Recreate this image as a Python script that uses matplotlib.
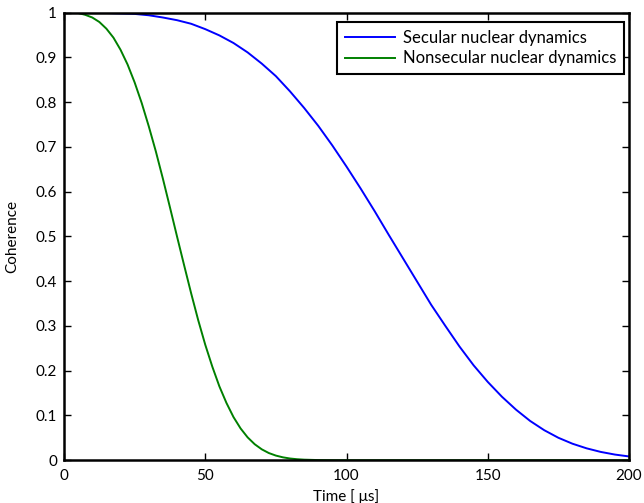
import matplotlib
matplotlib.use("Agg")
import matplotlib.pyplot as plt
import numpy as np

plt.rcParams["font.family"] = ["Lato", "DejaVu Sans"]

# Time axis in microseconds
t_secular = [0, 5, 10, 15, 20, 25, 30, 35, 40, 45, 50, 55, 60, 65, 70, 75, 80,
             85, 90, 95, 100, 105, 110, 115, 120, 125, 130, 135, 140, 145, 150,
             155, 160, 165, 170, 175, 180, 185, 190, 195, 200]
coh_secular = [1.000, 1.000, 1.000, 0.999, 0.998, 0.997, 0.994, 0.989, 0.983,
               0.975, 0.963, 0.949, 0.932, 0.911, 0.886, 0.858, 0.824, 0.787,
               0.747, 0.703, 0.656, 0.607, 0.556, 0.503, 0.451, 0.399, 0.347,
               0.300, 0.254, 0.212, 0.175, 0.142, 0.113, 0.0878, 0.0671,
               0.0502, 0.0369, 0.0266, 0.0186, 0.0127, 0.0085]

t_nonsecular = [0, 2.5, 5, 7.5, 10, 12.5, 15, 17.5, 20, 22.5, 25, 27.5, 30,
                32.5, 35, 37.5, 40, 42.5, 45, 47.5, 50, 52.5, 55, 57.5, 60,
                62.5, 65, 67.5, 70, 72.5, 75, 77.5, 80, 82.5, 85, 90, 95, 100,
                120, 140, 160, 180, 200]
coh_nonsecular = [1.000, 1.000, 0.999, 0.995, 0.989, 0.979, 0.964, 0.944,
                  0.917, 0.884, 0.844, 0.798, 0.746, 0.690, 0.629, 0.565,
                  0.500, 0.436, 0.373, 0.313, 0.258, 0.209, 0.165, 0.128,
                  0.0964, 0.0711, 0.0511, 0.0358, 0.0244, 0.0161, 0.0104,
                  0.0065, 0.0039, 0.0023, 0.0013, 0.0004, 0.0001, 0.0, 0.0,
                  0.0, 0.0, 0.0, 0.0]

xticks = [0, 50, 100, 150, 200]
yticks = [0, 0.1, 0.2, 0.3, 0.4, 0.5, 0.6, 0.7, 0.8, 0.9, 1]
ytick_labels = ["0", "0.1", "0.2", "0.3", "0.4", "0.5", "0.6", "0.7", "0.8",
                "0.9", "1"]

W, H = 644, 503
fig = plt.figure(figsize=(W / 100, H / 100), dpi=100)
ax = fig.add_axes([0.0994, 0.085, 0.8773, 0.890])

ax.plot(t_secular, coh_secular, color="#0000FF", linewidth=1.4,
        label="Secular nuclear dynamics")
ax.plot(t_nonsecular, coh_nonsecular, color="#008000", linewidth=1.4,
        label="Nonsecular nuclear dynamics")

ax.set_xlim(0, 200)
ax.set_ylim(0, 1)
ax.set_xticks(xticks)
ax.set_xticklabels([str(v) for v in xticks])
ax.set_yticks(yticks)
ax.set_yticklabels(ytick_labels)
ax.tick_params(direction="in", length=5, width=1, labelsize=11,
               top=True, right=True)
ax.tick_params(axis="x", pad=6)
ax.tick_params(axis="y", pad=5)
for s in ax.spines.values():
    s.set_linewidth(1.8)

ax.set_xlabel("Time [ \u03bcs]", fontsize=11, labelpad=5)
ax.set_ylabel("Coherence", fontsize=11, labelpad=12)

# legend box anchored by its top-right corner
leg = ax.legend(loc="upper right", bbox_to_anchor=(624 / W, 1 - 22 / H),
                bbox_transform=fig.transFigure, borderaxespad=0,
                fontsize=12, handlelength=3.0, fancybox=False,
                framealpha=1, edgecolor="black", borderpad=0.45,
                labelspacing=0.3, handletextpad=0.5)
leg.get_frame().set_linewidth(1.5)

fig.savefig("out.png", dpi=100)
